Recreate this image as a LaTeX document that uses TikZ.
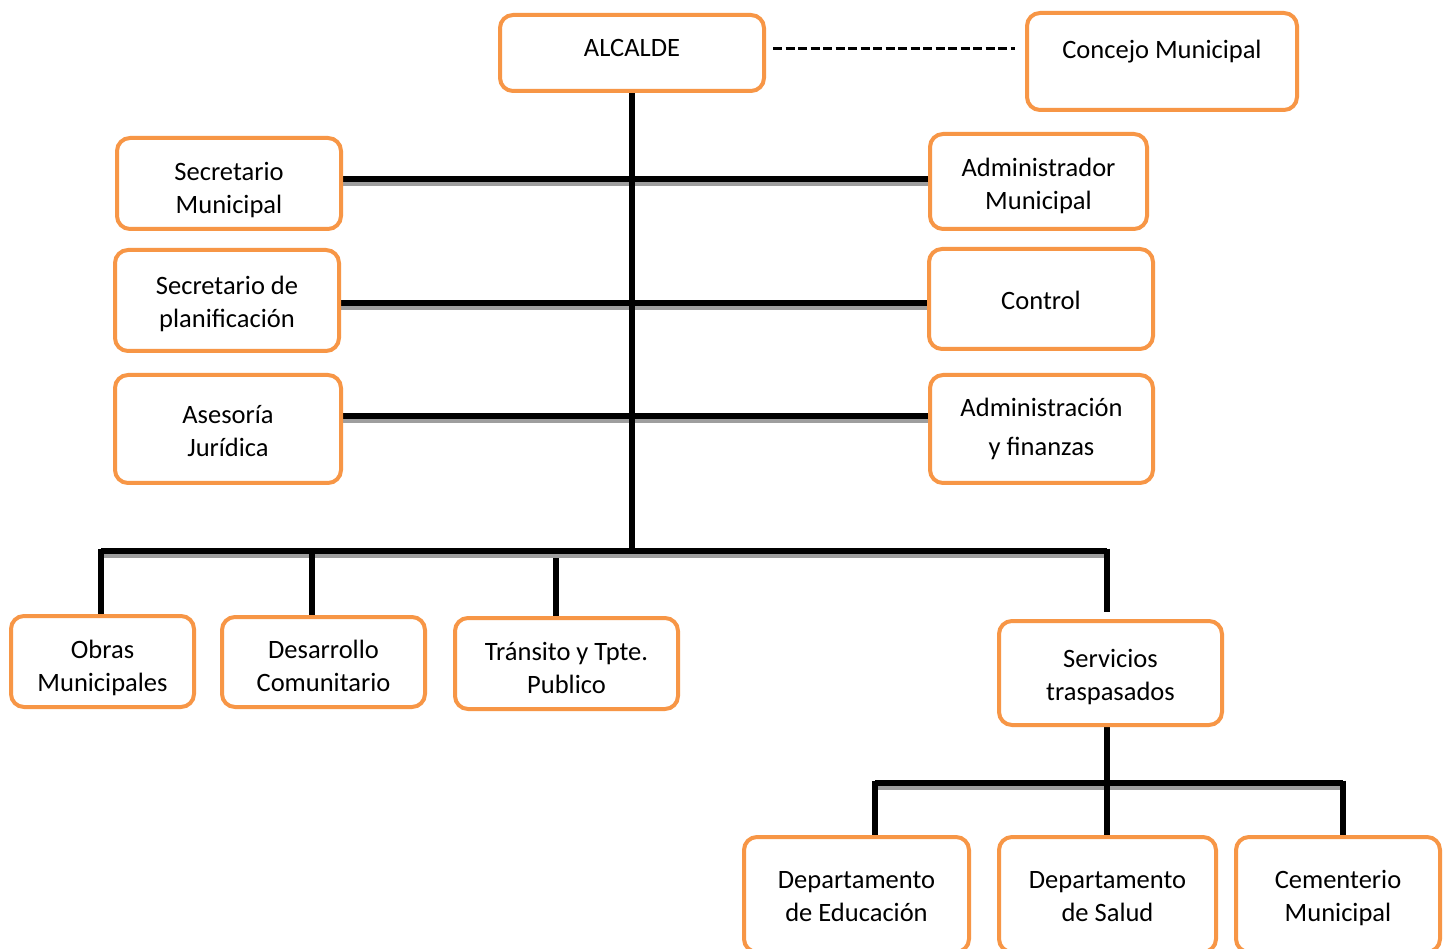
\documentclass[tikz,border=0pt]{standalone}
\usepackage{fontspec}
\setmainfont{Carlito}
\definecolor{boxorange}{HTML}{F79646}
\pgfdeclarelayer{bg}
\pgfsetlayers{bg,main}
\tikzset{
  box/.style={draw=boxorange, line width=4pt, rounded corners=13pt, fill=white,
    align=center, inner sep=0pt, font=\fontsize{26.5}{33}\selectfont},
  tb/.style 2 args={text height=#1pt, text depth=#2pt},
  link/.style={line width=5.2pt, draw=black},
  hlink/.style={link, preaction={draw=black!38, line width=4.5pt, transform canvas={yshift=-5pt}}},
  dashlink/.style={line width=3pt, draw=black, dash pattern=on 9pt off 3.5pt},
}
\begin{document}
\begin{tikzpicture}[x=1pt,y=-1pt]
\clip (0,0) rectangle (1452,949);
% boxes
\node[box, tb={27}{20}, minimum width=264, minimum height=76] (alc) at (632,53) {ALCALDE};
\node[box, tb={14}{20}, minimum width=270, minimum height=97] (cm) at (1162,61.5) {Concejo Municipal};
\node[box, tb={61}{0}, minimum width=224, minimum height=91] (sm) at (229,183.5) {Secretario\\Municipal};
\node[box, tb={55.6}{0}, minimum width=217, minimum height=95] (am) at (1038.5,181.5) {Administrador\\Municipal};
\node[box, tb={55}{0}, minimum width=224, minimum height=101] (sp) at (227,300.5) {Secretario de\\planificación};
\node[box, tb={41}{20}, minimum width=224, minimum height=100] (ct) at (1041,299) {Control};
\node[box, tb={55}{0}, minimum width=226, minimum height=108] (aj) at (228,429) {Asesoría\\Jurídica};
\node[box, tb={54}{0}, minimum width=223, minimum height=108] (af) at (1041.5,429) {Administración\\[6pt]y finanzas};
\node[box, tb={60}{0}, minimum width=183, minimum height=91] (ob) at (102.5,661.5) {Obras\\Municipales};
\node[box, tb={59}{0}, minimum width=203, minimum height=90] (dc) at (323.5,662) {Desarrollo\\Comunitario};
\node[box, tb={60}{0}, minimum width=223, minimum height=91] (tr) at (566.5,663.5) {Tránsito y Tpte.\\Publico};
\node[box, tb={54}{0}, minimum width=223, minimum height=104] (st) at (1110.5,673) {Servicios\\traspasados};
\node[box, tb={54}{0}, minimum width=225, minimum height=115] (de) at (856.5,894.5) {Departamento\\de Educación};
\node[box, tb={54}{0}, minimum width=217, minimum height=115] (ds) at (1107.5,894.5) {Departamento\\de Salud};
\node[box, tb={54}{0}, minimum width=204, minimum height=115] (cmu) at (1338,894.5) {Cementerio\\Municipal};
% coordinates
\coordinate (r1) at (632,179);
\coordinate (r2) at (632,303);
\coordinate (r3) at (632,416);
\coordinate (bus) at (632,551);
\coordinate (bl) at (101,551);
\coordinate (bd) at (312,551);
\coordinate (t1) at (556,558);
\coordinate (br) at (1107,551);
\coordinate (s2) at (1107,612);
\coordinate (b2) at (1107,783);
\coordinate (b2l) at (875,783);
\coordinate (b2r) at (1343,783);
\coordinate (d1) at (773,49);
\coordinate (d2) at (1015,49);
\begin{pgfonlayer}{bg}
\fill[white] (0,0) rectangle (1452,949);
\draw[hlink] (sm.east |- r1) -- (am.west |- r1);
\draw[hlink] (sp.east |- r2) -- (ct.west |- r2);
\draw[hlink] (aj.east |- r3) -- (af.west |- r3);
\draw[hlink] (bl) -- (br);
\draw[link] (alc.south -| bus) -- (bus);
\draw[link] ([yshift=2.5pt]bl) -- (bl |- ob.north);
\draw[link] (bd) -- (bd |- dc.north);
\draw[link] (t1) -- (t1 |- tr.north);
\draw[link] ([yshift=2.5pt]br) -- (s2);
\draw[hlink] (b2l) -- (b2r);
\draw[link] (st.south -| b2) -- (b2 |- ds.north);
\draw[link] ([yshift=2.5pt]b2l) -- (b2l |- de.north);
\draw[link] ([yshift=2.5pt]b2r) -- (b2r |- cmu.north);
\draw[dashlink] (d1) -- (d2);
\end{pgfonlayer}
\end{tikzpicture}
\end{document}
